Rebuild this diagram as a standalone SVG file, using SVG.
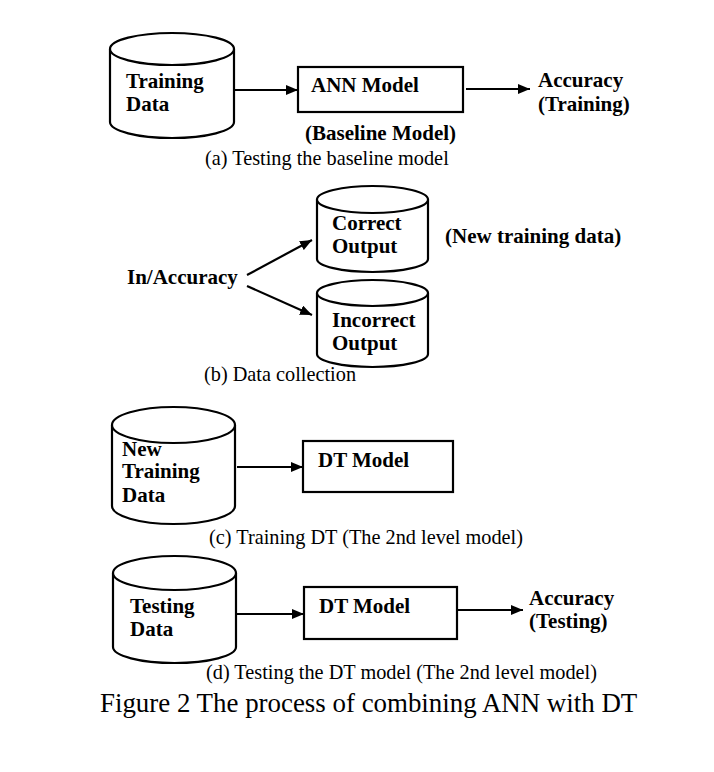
<svg xmlns="http://www.w3.org/2000/svg" width="714" height="772" viewBox="0 0 714 772">
<defs>
<marker id="ah" viewBox="0 0 12 10" refX="12" refY="5" markerWidth="12" markerHeight="10" markerUnits="userSpaceOnUse" orient="auto"><path d="M0,0 L12,5 L0,10 Z" fill="#000"/></marker>
</defs>
<style>
.shp{fill:#fff;stroke:#000;stroke-width:2.2}
.ln{fill:none;stroke:#000;stroke-width:2.2;marker-end:url(#ah)}
.b{font-family:"Liberation Serif","Times New Roman",serif;font-weight:bold;font-size:21px;fill:#000}
.r{font-family:"Liberation Serif","Times New Roman",serif;font-size:20.3px;fill:#000}
.cap{font-family:"Liberation Serif","Times New Roman",serif;font-size:26.9px;fill:#000}
</style>
<rect width="714" height="772" fill="#fff"/>

<g id="training-data">
<path class="shp" d="M110,49 L110,122 A62,16 0 0 0 234,122 L234,49"/>
<ellipse class="shp" cx="172" cy="49" rx="62" ry="16"/>
<text class="b" x="126" y="88">Training</text>
<text class="b" x="126" y="111">Data</text>
</g>
<g id="ann-model">
<rect class="shp" x="298" y="67" width="165" height="45"/>
<text class="b" x="311" y="92">ANN Model</text>
</g>
<g id="accuracy-training">
<text class="b" x="538" y="87">Accuracy</text>
<text class="b" x="538" y="111">(Training)</text>
</g>
<text class="b" x="305" y="140">(Baseline Model)</text>
<text class="r" x="205" y="165">(a) Testing the baseline model</text>

<g id="correct-output">
<path class="shp" d="M317,199.5 L317,259 A55.5,13 0 0 0 428,259 L428,199.5"/>
<ellipse class="shp" cx="372.5" cy="199.5" rx="55.5" ry="13.5"/>
<text class="b" x="332" y="230">Correct</text>
<text class="b" x="332" y="253">Output</text>
</g>
<text class="b" x="445" y="243">(New training data)</text>
<g id="in-accuracy">
<text class="b" x="127" y="284">In/Accuracy</text>
</g>
<g id="incorrect-output">
<path class="shp" d="M317,293 L317,354 A55.5,13 0 0 0 428,354 L428,293"/>
<ellipse class="shp" cx="372.5" cy="293" rx="55.5" ry="13"/>
<text class="b" x="332" y="327">Incorrect</text>
<text class="b" x="332" y="350">Output</text>
</g>
<text class="r" x="204" y="381">(b) Data collection</text>

<g id="new-training-data">
<path class="shp" d="M112,425 L112,506 A61.5,18 0 0 0 235,506 L235,425"/>
<text class="b" x="122" y="456">New</text>
<ellipse class="shp" cx="173.5" cy="425" rx="61.5" ry="18"/>
<text class="b" x="122" y="478">Training</text>
<text class="b" x="122" y="502">Data</text>
</g>
<g id="dt-model-1">
<rect class="shp" x="303" y="441" width="150" height="51"/>
<text class="b" x="318" y="467">DT Model</text>
</g>
<text class="r" x="209" y="544">(c) Training DT (The 2nd level model)</text>

<g id="testing-data">
<path class="shp" d="M113,573 L113,647 A61.5,16 0 0 0 236,647 L236,573"/>
<ellipse class="shp" cx="174.5" cy="573" rx="61.5" ry="17"/>
<text class="b" x="130" y="613">Testing</text>
<text class="b" x="130" y="636">Data</text>
</g>
<g id="dt-model-2">
<rect class="shp" x="304" y="587" width="153" height="52"/>
<text class="b" x="319" y="613">DT Model</text>
</g>
<g id="accuracy-testing">
<text class="b" x="529" y="605">Accuracy</text>
<text class="b" x="529" y="628">(Testing)</text>
</g>
<text class="r" x="206" y="679">(d) Testing the DT model (The 2nd level model)</text>
<text class="cap" x="100" y="712">Figure 2 The process of combining ANN with DT</text>

<g id="connectors">
<line class="ln" x1="234" y1="90" x2="298" y2="90"/>
<line class="ln" x1="466" y1="89" x2="530" y2="89"/>
<line class="ln" x1="247" y1="275" x2="312" y2="240"/>
<line class="ln" x1="247" y1="286" x2="312" y2="315"/>
<line class="ln" x1="237" y1="467" x2="303" y2="467"/>
<line class="ln" x1="237" y1="614" x2="304" y2="614"/>
<line class="ln" x1="458" y1="610" x2="523" y2="610"/>
</g>
</svg>
